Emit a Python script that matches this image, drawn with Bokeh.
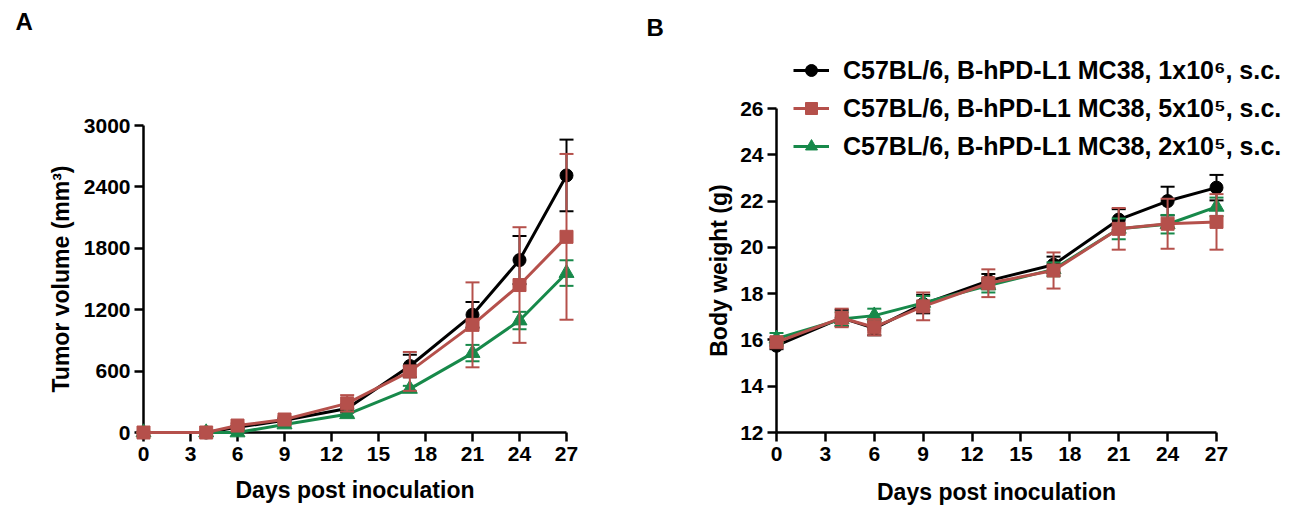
import math
from bokeh.plotting import figure
from bokeh.layouts import row
from bokeh.models import Range1d, FixedTicker, Legend, LegendItem
from bokeh.core.properties import value
from bokeh.embed import file_html
from bokeh.resources import INLINE

# ---------------- data ----------------
days = [0, 4, 6, 9, 13, 17, 21, 24, 27]

series_labels = [
    "C57BL/6, B-hPD-L1 MC38, 1x10\u2076, s.c.",
    "C57BL/6, B-hPD-L1 MC38, 5x10\u2075, s.c.",
    "C57BL/6, B-hPD-L1 MC38, 2x10\u2075, s.c.",
]

tumor_1e6 = [0, 0, 50, 120, 235, 650, 1150, 1685, 2512]
tumor_1e6_err = [0, 0, 15, 20, 40, 110, 125, 235, 350]
tumor_5e5 = [0, 0, 68, 127, 285, 597, 1052, 1441, 1912]
tumor_5e5_err = [0, 0, 20, 30, 80, 190, 415, 565, 810]
tumor_2e5 = [0, 0, 0, 78, 178, 426, 776, 1094, 1558]
tumor_2e5_err = [0, 0, 5, 15, 25, 30, 80, 85, 125]

bw_1e6 = [15.75, 16.95, 16.5, 17.55, 18.55, 19.25, 21.2, 22.0, 22.58]
bw_1e6_err = [0.15, 0.35, 0.3, 0.4, 0.3, 0.35, 0.45, 0.62, 0.55]
bw_5e5 = [15.9, 16.95, 16.55, 17.45, 18.45, 19.0, 20.8, 21.02, 21.1]
bw_5e5_err = [0.2, 0.4, 0.35, 0.6, 0.6, 0.78, 0.9, 1.08, 1.2]
bw_2e5 = [16.05, 16.9, 17.05, 17.6, 18.35, 19.05, 20.8, 21.0, 21.75]
bw_2e5_err = [0.25, 0.3, 0.3, 0.3, 0.3, 0.3, 0.45, 0.4, 0.4]

x_ticks = [0, 3, 6, 9, 12, 15, 18, 21, 24, 27]
tumor_ticks = [0, 600, 1200, 1800, 2400, 3000]
bw_ticks = [12, 14, 16, 18, 20, 22, 24, 26]
panel_letters = ["A", "B"]
x_title = "Days post inoculation"
y_title_A = "Tumor volume (mm\u00b3)"
y_title_B = "Body weight (g)"

# ---------------- style ----------------
FONT = "Liberation Sans"
BLACK = "#000000"
RED = "#B5504B"
GREEN = "#17894A"
styles = [
    dict(color=BLACK, marker="circle", size=13),
    dict(color=GREEN, marker="triangle", size=15),
    dict(color=RED, marker="square", size=13),
]

H = 514
BOTTOM = 82          # pixels below the x axis line


def style_axes(p):
    for ax in (p.xaxis, p.yaxis):
        ax.axis_line_width = 2.5
        ax.axis_line_color = "black"
        ax.major_tick_line_width = 2.5
        ax.major_tick_line_color = "black"
        ax.major_tick_out = 9
        ax.major_tick_in = 0
        ax.minor_tick_line_color = None
        ax.major_label_text_font = FONT
        ax.major_label_text_font_style = "bold"
        ax.major_label_text_font_size = "21px"
        ax.major_label_text_color = "black"
    p.xaxis.major_label_standoff = 5
    p.yaxis.major_label_standoff = 4
    p.xgrid.visible = False
    p.ygrid.visible = False
    p.outline_line_color = None


def make_panel(width, left, right_gap, axis_right_px, axis_top_px, xt, yt):
    """Frame reaches the top of the canvas; axes are bounded to the tick span."""
    frame_w = width - left - right_gap
    frame_h = H - BOTTOM
    ppx = (axis_right_px - left) / (xt[-1] - xt[0])
    ppy = (H - BOTTOM - axis_top_px) / (yt[-1] - yt[0])
    p = figure(width=width, height=H, output_backend="svg", toolbar_location=None,
               x_range=Range1d(xt[0], xt[0] + frame_w / ppx),
               y_range=Range1d(yt[0], yt[0] + frame_h / ppy),
               min_border_left=left, min_border_right=right_gap, min_border_top=0,
               min_border_bottom=BOTTOM, background_fill_color="white")
    p.xaxis.ticker = FixedTicker(ticks=xt)
    p.yaxis.ticker = FixedTicker(ticks=yt)
    p.xaxis.bounds = (xt[0], xt[-1])
    p.yaxis.bounds = (yt[0], yt[-1])
    style_axes(p)
    return p, ppx, ppy


def axis_titles(p, xt, yt, ppx, ppy, xlabel, ylabel, x_dy_px, y_dx_px):
    # titles centred on the bounded axes (drawn outside the frame, unclipped)
    common = dict(text_font=value(FONT), text_font_style="bold", text_font_size="23px",
                  text_color="black", text_align="center", text_baseline="middle",
                  level="overlay")
    p.text(x=[(xt[0] + xt[-1]) / 2], y=[yt[0] - x_dy_px / ppy], text=[xlabel], **common)
    p.text(x=[xt[0] - y_dx_px / ppx], y=[(yt[0] + yt[-1]) / 2], text=[ylabel],
           angle=math.pi / 2, **common)


def draw_series(p, x, y, err, st):
    lo = [v - e for v, e in zip(y, err)]
    hi = [v + e for v, e in zip(y, err)]
    c = st["color"]
    p.segment(x0=x, y0=lo, x1=x, y1=hi, line_color=c, line_width=2, level="overlay")
    p.scatter(x, hi, marker="dash", size=14, line_color=c, line_width=2, level="overlay")
    p.scatter(x, lo, marker="dash", size=14, line_color=c, line_width=2, level="overlay")
    lr = p.line(x, y, line_color=c, line_width=3, level="overlay")
    mr = p.scatter(x, y, marker=st["marker"], size=st["size"], fill_color=c,
                   line_color=c, level="overlay")
    return lr, mr


def panel_letter(p, letter, xt, yt, ppx, ppy, dx_px, dy_px):
    # dx_px: pixels left of the y axis; dy_px: pixels above the top tick
    p.text(x=[xt[0] - dx_px / ppx], y=[yt[-1] + dy_px / ppy], text=[letter],
           text_font=value(FONT), text_font_style="bold", text_font_size="24px",
           text_color="black", text_baseline="top", text_align="left", level="overlay")


# ---------------- panel A ----------------
pA, ppxA, ppyA = make_panel(640, 143, 74, 566, 125, x_ticks, tumor_ticks)
tumor = [(tumor_1e6, tumor_1e6_err), (tumor_2e5, tumor_2e5_err), (tumor_5e5, tumor_5e5_err)]
for (yv, ev), st in zip(tumor, styles):
    draw_series(pA, days, yv, ev, st)
axis_titles(pA, x_ticks, tumor_ticks, ppxA, ppyA, x_title, y_title_A, 57, 83)
panel_letter(pA, panel_letters[0], x_ticks, tumor_ticks, ppxA, ppyA, 128, 118)

# ---------------- panel B ----------------
pB, ppxB, ppyB = make_panel(652, 136, 0, 1216 - 640, 108, x_ticks, bw_ticks)
bw = [(bw_1e6, bw_1e6_err), (bw_2e5, bw_2e5_err), (bw_5e5, bw_5e5_err)]
rends = []
for (yv, ev), st in zip(bw, styles):
    rends.append(draw_series(pB, days, yv, ev, st))
axis_titles(pB, x_ticks, bw_ticks, ppxB, ppyB, x_title, y_title_B, 59, 58)
panel_letter(pB, panel_letters[1], x_ticks, bw_ticks, ppxB, ppyB, 130, 95)

# legend order: 1e6 (black), 5e5 (red), 2e5 (green)
legend = Legend(items=[
    LegendItem(label=series_labels[0], renderers=list(rends[0])),
    LegendItem(label=series_labels[1], renderers=list(rends[2])),
    LegendItem(label=series_labels[2], renderers=list(rends[1])),
], location=(17, 271))
legend.label_text_font = FONT
legend.label_text_font_style = "bold"
legend.label_text_font_size = "25px"
legend.label_text_color = "black"
legend.label_height = 30
legend.glyph_height = 30
legend.glyph_width = 36
legend.label_standoff = 14
legend.spacing = 8
legend.padding = 0
legend.margin = 0
legend.border_line_color = None
legend.background_fill_alpha = 0
pB.add_layout(legend)

layout = row(pA, pB)
open("out.html", "w").write(file_html(layout, INLINE))
